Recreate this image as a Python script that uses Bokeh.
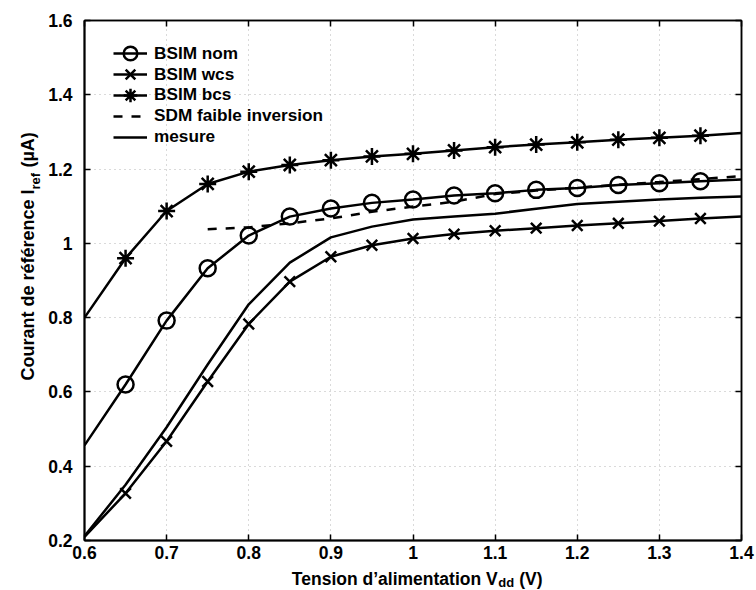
import math
from bokeh.plotting import figure
from bokeh.models import (Range1d, LinearAxis, FixedTicker, NumeralTickFormatter,
                          Legend, LegendItem)
from bokeh.layouts import row, column
from bokeh.core.properties import value
from bokeh.embed import file_html
from bokeh.resources import INLINE

# ---- data -------------------------------------------------------------
vdd = [0.60, 0.65, 0.70, 0.75, 0.80, 0.85, 0.90, 0.95, 1.00, 1.05,
       1.10, 1.15, 1.20, 1.25, 1.30, 1.35, 1.40]
bsim_nom = [0.456, 0.620, 0.792, 0.933, 1.021, 1.072, 1.094, 1.109, 1.118, 1.129,
            1.135, 1.144, 1.149, 1.157, 1.162, 1.167, 1.172]
bsim_wcs = [0.210, 0.327, 0.467, 0.628, 0.783, 0.897, 0.964, 0.995, 1.013, 1.025,
            1.034, 1.041, 1.048, 1.054, 1.060, 1.067, 1.072]
bsim_bcs = [0.800, 0.960, 1.087, 1.160, 1.193, 1.211, 1.224, 1.234, 1.241, 1.250,
            1.259, 1.266, 1.272, 1.279, 1.284, 1.290, 1.297]
mesure = [0.212, 0.350, 0.505, 0.674, 0.836, 0.948, 1.016, 1.045, 1.064, 1.072,
          1.080, 1.093, 1.106, 1.112, 1.118, 1.123, 1.126]
vdd_sdm = [0.75, 0.80, 0.85, 0.90, 0.95, 1.00, 1.05, 1.10, 1.15, 1.20,
           1.25, 1.30, 1.35, 1.40]
sdm = [1.038, 1.043, 1.054, 1.067, 1.085, 1.099, 1.112, 1.133, 1.142, 1.150,
       1.158, 1.165, 1.173, 1.181]
x_ticks = [0.6, 0.7, 0.8, 0.9, 1.0, 1.1, 1.2, 1.3, 1.4]
y_ticks = [0.2, 0.4, 0.6, 0.8, 1.0, 1.2, 1.4, 1.6]

labels = ["BSIM nom", "BSIM wcs", "BSIM bcs", "SDM faible inversion", "mesure"]
x_title = ["Tension d\u2019alimentation V", "dd", "(V)"]
y_title = ["Courant de r\u00e9f\u00e9rence I", "ref", "(\u00b5A)"]

# ---- style ------------------------------------------------------------
FONT = "Liberation Sans"
LW = 2.5
TICK_FS = "17.5px"
LEFT_W = 45      # strip holding the y title
BOTTOM_H = 24    # strip holding the x title
W, H = 756, 590
FRAME_L, FRAME_R, FRAME_T, FRAME_B = 82, 741, 20, 540   # page pixels

p = figure(width=W - LEFT_W, height=H - BOTTOM_H, output_backend="svg",
           toolbar_location=None,
           x_range=Range1d(0.6, 1.4), y_range=Range1d(0.2, 1.6),
           min_border_left=FRAME_L - LEFT_W, min_border_right=W - FRAME_R,
           min_border_top=FRAME_T, min_border_bottom=(H - BOTTOM_H) - FRAME_B)
p.outline_line_color = "black"
p.outline_line_width = 1.5
p.background_fill_color = "white"

for ax, ticks in ((p.xaxis[0], x_ticks), (p.yaxis[0], y_ticks)):
    ax.ticker = FixedTicker(ticks=ticks)
    ax.formatter = NumeralTickFormatter(format="0.[0]")
    ax.major_tick_in = 6
    ax.major_tick_out = 0
    ax.minor_tick_line_color = None
    ax.axis_line_width = 2
    ax.major_tick_line_width = 1.5
    ax.major_label_text_font = FONT
    ax.major_label_text_font_style = "bold"
    ax.major_label_text_font_size = TICK_FS
    ax.major_label_text_color = "black"
p.xaxis[0].major_label_standoff = 5
p.yaxis[0].major_label_standoff = 12

# top and right: ticks only (inward), no labels
for loc, ticks in (("above", x_ticks), ("right", y_ticks)):
    ax = LinearAxis(ticker=FixedTicker(ticks=ticks))
    ax.major_tick_in = 6
    ax.major_tick_out = 0
    ax.minor_tick_line_color = None
    ax.major_label_overrides = {t: "" for t in ticks}
    ax.major_label_text_font_size = "1px"
    ax.major_label_standoff = 0
    ax.axis_line_width = 1.5
    ax.major_tick_line_width = 1.5
    p.add_layout(ax, loc)

for g, ticks in ((p.xgrid[0], x_ticks), (p.ygrid[0], y_ticks)):
    g.ticker = FixedTicker(ticks=ticks)
    g.grid_line_color = "#b4b4b4"
    g.grid_line_dash = "1 4"
    g.grid_line_width = 1

# ---- series -----------------------------------------------------------
mx = vdd[1:-1]
l_nom = p.line(vdd, bsim_nom, line_color="black", line_width=LW)
m_nom = p.scatter(mx, bsim_nom[1:-1], marker="circle", size=16, fill_color="white",
                  fill_alpha=0, line_color="black", line_width=2.5)
l_wcs = p.line(vdd, bsim_wcs, line_color="black", line_width=LW)
m_wcs = p.scatter(mx, bsim_wcs[1:-1], marker="x", size=15, line_color="black",
                  line_width=2.5)
l_bcs = p.line(vdd, bsim_bcs, line_color="black", line_width=LW)
m_bcs = p.scatter(mx, bsim_bcs[1:-1], marker="asterisk", size=17, line_color="black",
                  line_width=2.5)
l_sdm = p.line(vdd_sdm, sdm, line_color="black", line_width=LW, line_dash="9 9")
l_mes = p.line(vdd, mesure, line_color="black", line_width=LW)

# one single-item legend per row (tall glyph boxes -> larger legend markers)
entries = [(labels[0], [l_nom, m_nom]), (labels[1], [l_wcs, m_wcs]),
           (labels[2], [l_bcs, m_bcs]), (labels[3], [l_sdm]), (labels[4], [l_mes])]
for i, (lbl, rs) in enumerate(entries):
    lg = Legend(items=[LegendItem(label=lbl, renderers=rs)],
                location=(29, 466.7 - 20.8 * i))
    lg.margin = 0
    lg.padding = 0
    lg.spacing = 0
    lg.border_line_color = None
    lg.background_fill_alpha = 0
    lg.glyph_width = 34
    lg.glyph_height = 40
    lg.label_height = 40
    lg.label_standoff = 7
    lg.label_text_font = FONT
    lg.label_text_font_style = "bold"
    lg.label_text_font_size = "17.2px"
    lg.label_text_color = "black"
    p.add_layout(lg, "center")

# ---- title strips: blank figures used only to hold the axis titles -------
def strip(w, h, xr):
    f = figure(width=w, height=h, output_backend="svg", toolbar_location=None,
               x_range=Range1d(*xr), y_range=Range1d(0, h),
               x_axis_location=None, y_axis_location=None,
               min_border=0, outline_line_color=None)
    f.grid.visible = False
    f.background_fill_color = "white"
    f.border_fill_color = "white"
    return f

def put(f, text, x, y, size, angle=0.0):
    f.text(x=[x], y=[y], text=[text], angle=angle,
           text_font=value(FONT), text_font_style="bold", text_font_size=size,
           text_color="black", text_align="left", text_baseline="middle")

# y title strip (page x 0..45); y measured upward from the page bottom
ly = strip(LEFT_W, H, (0, LEFT_W))
a = math.pi / 2
put(ly, y_title[0], 27, 210, "18px", a)
put(ly, y_title[1], 34.5, 401, "13px", a)
put(ly, y_title[2], 27, 423, "18px", a)

# x title strip: its frame lines up with the main frame, so x is in page px
bx = strip(W - LEFT_W, BOTTOM_H, (FRAME_L, FRAME_R))
put(bx, x_title[0], 290, 12, "17.5px")
put(bx, x_title[1], 497, 8, "13px")
put(bx, x_title[2], 518, 12, "17.5px")

layout = row(ly, column(p, bx, spacing=0), spacing=0)
open("out.html", "w").write(file_html(layout, INLINE))
